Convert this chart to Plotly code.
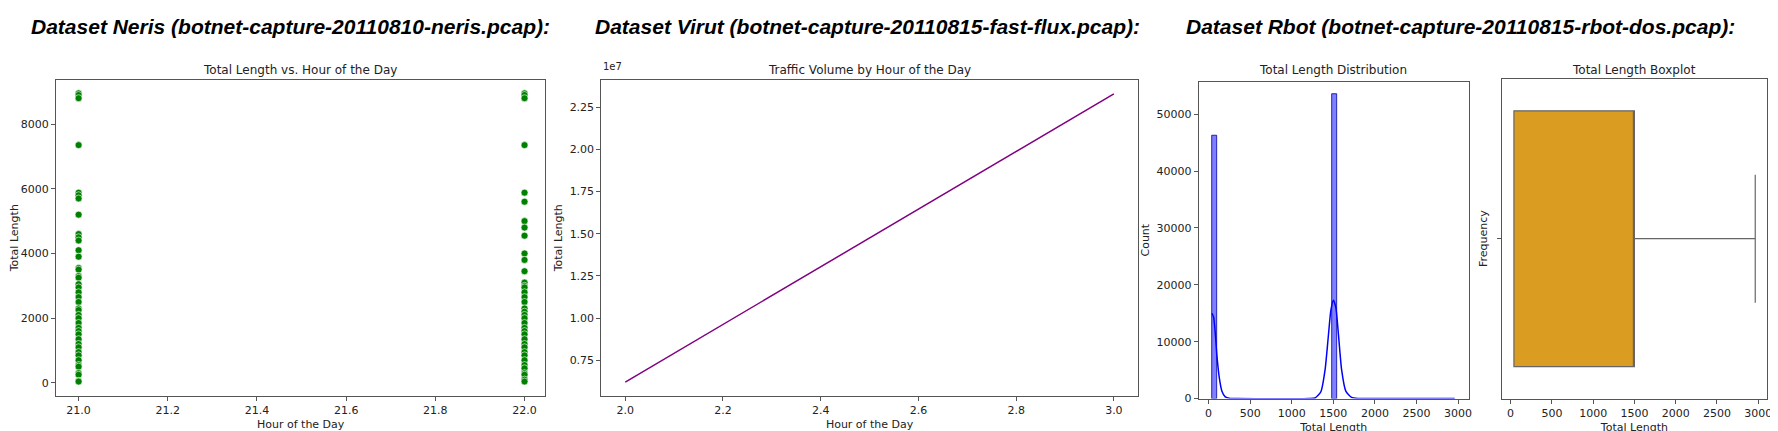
import plotly.graph_objects as go

W, H = 1778, 431

# Neris: total length per packet at hour 21 and hour 22
neris_len_21 = [8950, 8900, 8800, 7350, 5880, 5800, 5700, 5200, 4600, 4500, 4400, 4100, 3900,
                3550, 3500, 3300, 3250, 3050, 2950, 2800, 2650, 2500, 2300, 2250, 2100, 2000,
                1850, 1700, 1600, 1500, 1350, 1200, 1100, 950, 850, 700, 550, 500, 300, 250, 60, 40]
neris_len_22 = [8950, 8900, 8800, 7350, 5880, 5600, 5000, 4800, 4550, 4000, 3800, 3450, 3100,
                3000, 2950, 2800, 2650, 2500, 2300, 2200, 2100, 2000, 1850, 1700, 1600, 1500,
                1350, 1200, 1100, 950, 850, 700, 550, 450, 300, 250, 100, 40]

# Virut: traffic volume per hour
virut_hours = [2, 3]
virut_volume = [6.2e6, 2.33e7]

# Rbot: histogram bins and kde
rbot_bin_centers = [67, 1510]
rbot_bin_counts = [46300, 53600]
rbot_kde_x = [40, 60, 80, 100, 130, 160, 200, 260, 350, 1200, 1280, 1350, 1400, 1440, 1470,
              1500, 1530, 1560, 1600, 1650, 1720, 1800, 2000, 2960]
rbot_kde_y = [15000, 14300, 11500, 7500, 3500, 1300, 300, 30, 0, 0, 100, 1200, 5000, 11000,
              15500, 17300, 16000, 11500, 5000, 1300, 200, 20, 0, 0]

# Rbot boxplot stats
rbot_box = dict(q1=40, median=1500, q3=1500, lower=40, upper=2964)

def px_x(a, b):
    return [a / W, b / W]

def px_y(top, bottom):
    return [1 - bottom / H, 1 - top / H]

fig = go.Figure()

for hour, yy in ((21.0, neris_len_21), (22.0, neris_len_22)):
    fig.add_trace(go.Scatter(x=[hour] * len(yy), y=yy, mode="markers", xaxis="x", yaxis="y",
                             marker=dict(color="green", size=7, line=dict(color="white", width=0.6))))

fig.add_trace(go.Scatter(x=virut_hours, y=virut_volume, mode="lines", xaxis="x2", yaxis="y2",
                         line=dict(color="purple", width=1.5)))

fig.add_trace(go.Bar(x=rbot_bin_centers, y=rbot_bin_counts, width=[60, 60], xaxis="x3", yaxis="y3",
                     marker=dict(color="rgba(0,0,255,0.5)", line=dict(color="rgba(0,0,160,0.8)", width=1))))
fig.add_trace(go.Scatter(x=rbot_kde_x, y=rbot_kde_y, mode="lines", xaxis="x3", yaxis="y3",
                         line=dict(color="blue", width=1.5, shape="spline", smoothing=0.6)))

fig.add_trace(go.Box(y=[0], q1=[rbot_box["q1"]], median=[rbot_box["median"]], q3=[rbot_box["q3"]],
                     lowerfence=[rbot_box["lower"]], upperfence=[rbot_box["upper"]],
                     orientation="h", xaxis="x4", yaxis="y4", width=0.8, whiskerwidth=0.5,
                     fillcolor="#DB9C22", line=dict(color="#666666", width=1.2)))

ax = dict(showline=True, linecolor="#555", linewidth=1, mirror=True, ticks="outside",
          ticklen=4, tickcolor="#555", showgrid=False, zeroline=False,
          tickfont=dict(size=11, color="#222"), title_font=dict(size=11, color="#222"),
          title_standoff=4)

fig.update_layout(
    width=W, height=H, margin=dict(l=0, r=0, t=0, b=0),
    plot_bgcolor="white", paper_bgcolor="white", showlegend=False,
    font=dict(family="DejaVu Sans", color="#222"),
    xaxis=dict(ax, domain=px_x(48, 539), range=[20.949, 22.047], tickvals=[21.0, 21.2, 21.4, 21.6, 21.8, 22.0],
               ticktext=["21.0", "21.2", "21.4", "21.6", "21.8", "22.0"], title_text="Hour of the Day"),
    yaxis=dict(ax, domain=px_y(73, 394), range=[-395, 9369], tickvals=[0, 2000, 4000, 6000, 8000],
               tickformat="d", title_text="Total Length"),
    xaxis2=dict(ax, domain=px_x(595, 1133), range=[1.951, 3.049], tickvals=[2.0, 2.2, 2.4, 2.6, 2.8, 3.0],
                ticktext=["2.0", "2.2", "2.4", "2.6", "2.8", "3.0"], anchor="y2", title_text="Hour of the Day"),
    yaxis2=dict(ax, domain=px_y(73, 394), range=[0.54e7, 2.413e7], anchor="x2",
                tickvals=[0.75e7, 1.0e7, 1.25e7, 1.5e7, 1.75e7, 2.0e7, 2.25e7],
                ticktext=["0.75", "1.00", "1.25", "1.50", "1.75", "2.00", "2.25"], title_text="Total Length"),
    xaxis3=dict(ax, domain=px_x(1194, 1465), range=[-120, 3130], tickvals=list(range(0, 3001, 500)),
                tickformat="d", anchor="y3", title_text="Total Length"),
    yaxis3=dict(ax, domain=px_y(75, 397), range=[0, 55700], anchor="x3",
                tickvals=list(range(0, 50001, 10000)), tickformat="d", title_text="Count"),
    xaxis4=dict(ax, domain=px_x(1498, 1764), range=[-107, 3107], tickvals=list(range(0, 3001, 500)),
                tickformat="d", anchor="y4", title_text="Total Length"),
    yaxis4=dict(ax, domain=px_y(72, 397), range=[0.5, -0.5], anchor="x4", tickvals=[0], ticktext=[""],
                title_text="Frequency"),
)

sub_titles = [("Total Length vs. Hour of the Day", 293), ("Traffic Volume by Hour of the Day", 864),
              ("Total Length Distribution", 1329), ("Total Length Boxplot", 1631)]
for txt, cx in sub_titles:
    fig.add_annotation(text=txt, x=cx / W, y=1 - 63 / H, xref="paper", yref="paper",
                       xanchor="center", yanchor="middle",
                       showarrow=False, font=dict(size=12, color="#222"))

fig.add_annotation(text="1e7", x=595 / W, y=1 - 67 / H, xref="paper", yref="paper",
                   xanchor="left", yanchor="bottom", showarrow=False, font=dict(size=10, color="#222"))

main_titles = [("Dataset Neris (botnet-capture-20110810-neris.pcap):", 283),
               ("Dataset Virut (botnet-capture-20110815-fast-flux.pcap):", 862),
               ("Dataset Rbot (botnet-capture-20110815-rbot-dos.pcap):", 1457)]
for txt, cx in main_titles:
    fig.add_annotation(text="<b><i>" + txt + "</i></b>", x=cx / W, y=1 - 19 / H, xref="paper",
                       yref="paper", xanchor="center", yanchor="middle", showarrow=False,
                       font=dict(size=21, color="black", family="Liberation Sans"))

fig.write_html("out.html")
